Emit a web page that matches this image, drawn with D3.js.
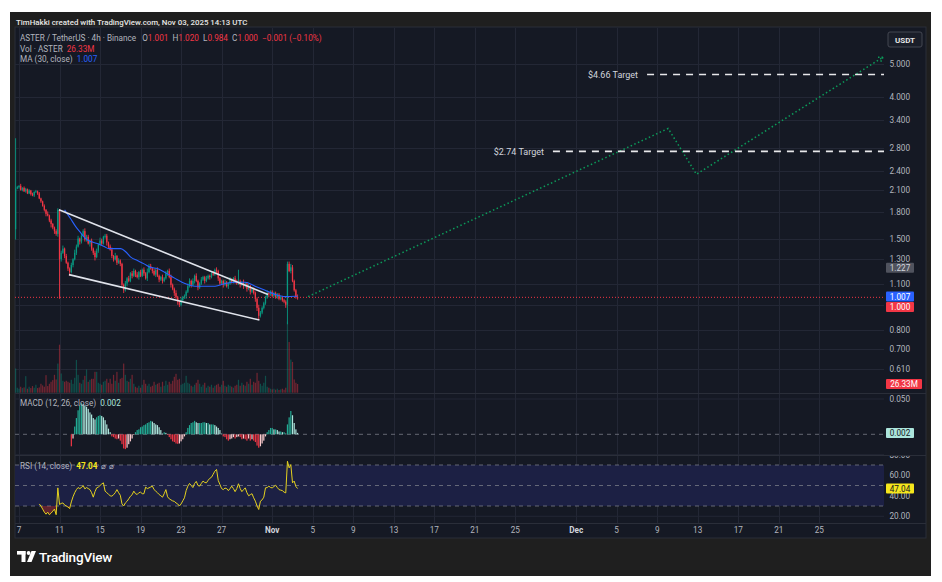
<!doctype html>
<html>
<head>
<meta charset="utf-8">
<title>ASTER / TetherUS 4h</title>
<style>
  html, body { margin: 0; padding: 0; background: #fff; }
  svg { display: block; font-family: "Roboto", "Inter", sans-serif; }
</style>
</head>
<body>
<svg id="chart" width="942" height="582"></svg>
<script src="https://cdn.jsdelivr.net/npm/d3@7/dist/d3.min.js"></script>
<script>
// ---- data (4h bars, first bar opens Oct 6 16:00 UTC) ----
const firstBar = Date.UTC(2025, 9, 6, 16);
const firstOpen = 1.60;
const closes = [
  2.12, 2.14, 2.16, 2.10, 2.13, 2.08, 2.11, 2.05, 2.09, 2.04, 2.02, 2.07,
  2.08, 2.05, 1.98, 1.94, 1.88, 1.83, 1.78, 1.76, 1.70, 1.66, 1.62, 1.58,
  1.55, 1.83, 1.30, 1.36, 1.40, 1.33, 1.27, 1.22, 1.19, 1.25, 1.30, 1.36,
  1.42, 1.50, 1.47, 1.53, 1.58, 1.49, 1.52, 1.45, 1.48, 1.40, 1.36, 1.32,
  1.38, 1.44, 1.48, 1.45, 1.52, 1.53, 1.46, 1.42, 1.39, 1.33, 1.30, 1.33,
  1.27, 1.29, 1.26, 1.09, 1.05, 1.10, 1.14, 1.12, 1.18, 1.16, 1.20, 1.17,
  1.15, 1.19, 1.16, 1.21, 1.18, 1.14, 1.19, 1.24, 1.22, 1.20, 1.17, 1.21,
  1.16, 1.13, 1.15, 1.12, 1.14, 1.18, 1.20, 1.15, 1.09, 1.06, 1.03, 1.00,
  0.97, 0.95, 0.98, 1.00, 1.01, 1.04, 1.08, 1.12, 1.09, 1.12, 1.16, 1.12,
  1.07, 1.10, 1.13, 1.15, 1.12, 1.14, 1.16, 1.15, 1.18, 1.17, 1.21, 1.20,
  1.14, 1.10, 1.12, 1.09, 1.11, 1.08, 1.10, 1.13, 1.11, 1.14, 1.12, 1.10,
  1.12, 1.09, 1.11, 1.08, 1.10, 1.06, 1.08, 1.04, 1.06, 1.03, 0.99, 0.93,
  0.88, 0.90, 0.93, 0.96, 1.00, 1.03, 1.02, 1.04, 1.01, 1.03, 1.00, 1.02,
  0.99, 1.00, 0.98, 0.97, 0.95, 1.26, 1.20, 1.23, 1.12, 1.05, 1.001, 1.000
];
// wick length above / below the body, in cents
const wickUp = [
  88, 2, 1, 3, 1, 2, 2, 1, 2, 1, 2, 1,
  2, 1, 2, 1, 1, 2, 1, 3, 1, 2, 1, 1,
  2, 2, 1, 2, 3, 1, 2, 1, 1, 2, 1, 3,
  2, 3, 1, 2, 2, 3, 2, 2, 1, 2, 1, 2,
  2, 1, 3, 2, 1, 2, 2, 1, 2, 2, 1, 3,
  1, 2, 1, 1, 1, 2, 1, 2, 1, 2, 2, 1,
  2, 1, 2, 1, 2, 1, 3, 2, 2, 1, 2, 1,
  2, 1, 1, 2, 1, 2, 1, 2, 2, 1, 1, 2,
  1, 1, 2, 1, 1, 1, 2, 2, 1, 2, 1, 2,
  1, 1, 2, 1, 1, 2, 1, 1, 1, 2, 1, 2,
  1, 1, 1, 1, 2, 1, 1, 2, 1, 1, 2, 1,
  9, 1, 1, 2, 1, 1, 2, 1, 1, 1, 1, 1,
  2, 1, 1, 1, 1, 2, 1, 1, 1, 1, 1, 1,
  1, 1, 1, 1, 1, 2, 2, 3, 2, 1, 1, 1.9
];
const wickDown = [
  11, 1, 2, 1, 2, 1, 2, 1, 1, 2, 1, 2,
  1, 2, 1, 2, 1, 2, 3, 1, 2, 4, 2, 3,
  2, 3, 31, 2, 1, 2, 1, 2, 3, 1, 2, 1,
  2, 1, 3, 2, 1, 2, 2, 1, 3, 2, 2, 3,
  1, 2, 1, 2, 1, 2, 3, 2, 1, 2, 2, 1,
  2, 1, 2, 2, 2, 1, 2, 1, 1, 2, 1, 2,
  1, 2, 1, 1, 2, 1, 2, 1, 1, 2, 1, 2,
  1, 2, 1, 2, 1, 1, 2, 1, 2, 1, 2, 1,
  2, 1.5, 1, 1, 1, 2, 1, 1, 2, 1, 2, 1,
  2, 1, 1, 1, 2, 1, 1, 2, 1, 1, 1, 2,
  2, 1, 1, 2, 1, 1, 2, 1, 1, 1, 2, 1,
  1, 2, 1, 2, 1, 2, 1, 2, 1, 1, 2, 2,
  2.5, 1, 1, 1, 1, 1, 2, 1, 1, 1, 1, 1,
  1, 1, 1, 1, 2, 12, 1, 2, 1, 1, 1, 1.6
];
// volume, millions
const volumes = [
  73, 15, 12, 18, 14, 16, 50, 12, 18, 14, 20, 15,
  24, 14, 16, 27, 22, 18, 53, 20, 27, 33, 38, 54,
  40, 88, 145, 58, 36, 33, 36, 33, 30, 39, 27, 45,
  99, 54, 30, 27, 39, 51, 70, 33, 39, 42, 42, 63,
  63, 30, 27, 24, 33, 36, 42, 30, 42, 27, 54, 36,
  63, 30, 42, 45, 88, 54, 36, 33, 42, 54, 27, 18,
  15, 21, 15, 24, 39, 27, 21, 27, 18, 21, 33, 24,
  27, 30, 18, 33, 21, 36, 24, 33, 27, 36, 48, 57,
  39, 42, 24, 27, 30, 51, 30, 27, 21, 18, 24, 30,
  39, 27, 18, 24, 30, 15, 21, 18, 24, 15, 21, 24,
  27, 18, 24, 36, 21, 18, 24, 21, 18, 15, 21, 24,
  39, 21, 30, 24, 21, 33, 27, 42, 24, 33, 30, 60,
  36, 27, 21, 30, 51, 18, 15, 12, 10, 12, 9, 12,
  8, 10, 12, 9, 15, 215, 153, 100, 93, 40, 30, 26.33
];
const _ = null;
const macdHist = [
  _, _, _, _, _, _, _, _, _, _, _, _,
  _, _, _, _, _, _, _, _, _, _, _, _,
  _, _, _, _, _, _, _, _, _, -0.017, -0.006, 0.011,
  0.023, 0.034, 0.041, 0.044, 0.043, 0.041, 0.039, 0.036, 0.031, 0.028, 0.023, 0.021,
  0.024, 0.026, 0.027, 0.026, 0.024, 0.020, 0.014, 0.008, 0.003, -0.003, -0.004, -0.006,
  -0.007, -0.006, -0.009, -0.014, -0.020, -0.021, -0.019, -0.014, -0.010, -0.006, -0.001, 0.003,
  0.006, 0.007, 0.010, 0.011, 0.013, 0.014, 0.016, 0.017, 0.019, 0.018, 0.016, 0.014,
  0.013, 0.010, 0.006, 0.001, 0.003, 0.002, -0.001, -0.004, -0.007, -0.010, -0.011, -0.013,
  -0.0135, -0.013, -0.010, -0.007, -0.003, 0.003, 0.009, 0.013, 0.016, 0.017, 0.019, 0.017,
  0.016, 0.016, 0.016, 0.017, 0.017, 0.016, 0.016, 0.014, 0.014, 0.014, 0.013, 0.011,
  0.009, 0.006, 0.001, -0.003, -0.004, -0.007, -0.009, -0.007, -0.006, -0.004, -0.006, -0.004,
  -0.003, -0.004, -0.007, -0.006, -0.007, -0.009, -0.006, -0.009, -0.007, -0.009, -0.011, -0.016,
  -0.019, -0.017, -0.013, -0.009, -0.003, 0.003, 0.006, 0.009, 0.009, 0.007, 0.007, 0.006,
  0.004, 0.004, 0.003, 0.003, 0.001, 0.014, 0.024, 0.033, 0.027, 0.016, 0.007, 0.002
];
const rsi = [
  _, _, _, _, _, _, _, _, _, _, _, _,
  _, _, 32, 30, 27, 24, 22, 24, 21.5, 23, 25, 27,
  21.5, 47.7, 31.5, 32.5, 33, 31, 30, 29, 27.5, 34, 39, 43,
  46, 48, 47, 48, 50, 46.7, 48, 47, 46, 43, 38.6, 44,
  47.7, 48.5, 50, 51.5, 52.6, 44.5, 43, 41.5, 40, 39.6, 41, 43,
  46, 43, 40.5, 32, 30, 33, 34.6, 37, 39.5, 41, 44.5, 42,
  41.2, 43, 43.5, 42, 42, 48.4, 47, 47.7, 48.5, 49.4, 46, 44.5,
  43, 41.2, 40, 38.6, 42, 46, 39, 37, 36, 35, 34.5, 33,
  32, 30, 32, 35, 38, 45, 49.4, 52, 50, 48, 52, 54,
  50, 49.4, 52, 54.3, 53, 52.6, 55, 57, 58, 61, 64, 65.7,
  55, 51, 47, 46, 47.5, 47, 45, 47, 49.4, 47, 44, 47,
  51.7, 47, 44, 46, 47.7, 43, 40, 41, 42, 38, 34.7, 30,
  26.6, 34.7, 36, 38.6, 47.7, 48, 49.4, 48, 47.7, 49, 50.3, 48,
  46, 45.5, 45, 43.5, 42.8, 73.7, 67.2, 70.4, 52.6, 54.3, 49, 47.04
];
// MA(30) read at bar indices
const maBars = [29, 32.6, 35.6, 38.6, 41.5, 44.5, 48.4, 52.4, 55.3, 58.3, 62.3, 65.2, 68.2, 72.1, 76.1, 80, 83.9, 88.2, 94.4, 100.3, 106.3, 112.2, 118.1, 124.1, 130, 135.9, 141.8, 147.8, 153.7, 159.6, 165.5, 167];
const maVals = [1.83, 1.72, 1.63, 1.56, 1.50, 1.47, 1.45, 1.42, 1.40, 1.40, 1.40, 1.37, 1.32, 1.29, 1.26, 1.23, 1.22, 1.19, 1.14, 1.10, 1.08, 1.08, 1.08, 1.10, 1.11, 1.11, 1.08, 1.05, 1.02, 1.005, 1.007, 1.007];

// falling wedge: [bar index, price]
const wedgeUpper = [[25.7, 1.83], [149.5, 1.02]];
const wedgeLower = [[31.6, 1.17], [144.4, 0.855]];
// projected path
const projDates = ['2025-11-04T13:00Z', '2025-12-10T02:00Z', '2025-12-12T21:00Z', '2025-12-31T07:00Z'];
const projPrices = [1.005, 3.21, 2.34, 5.25];
// targets
const targetLabels = ['$2.74 Target', '$4.66 Target'];
const targetPrices = [2.74, 4.66];
const targetFrom = ['2025-11-28T17:00Z', '2025-12-08T00:00Z'];

const priceTicks = [5, 4, 3.4, 2.8, 2.4, 2.1, 1.8, 1.5, 1.3, 1.1, 0.95, 0.8, 0.7, 0.61];
const dateTicks = ['2025-10-07', '2025-10-11', '2025-10-15', '2025-10-19', '2025-10-23', '2025-10-27', '2025-11-01',
  '2025-11-05', '2025-11-09', '2025-11-13', '2025-11-17', '2025-11-21', '2025-11-25', '2025-12-01',
  '2025-12-05', '2025-12-09', '2025-12-13', '2025-12-17', '2025-12-21', '2025-12-25'];
const dateLabels = ['7', '11', '15', '19', '23', '27', 'Nov', '5', '9', '13', '17', '21', '25', 'Dec', '5', '9', '13', '17', '21', '25'];
const rsiTicks = [80, 60, 40, 20];

// ---- layout ----
const UP = '#089981', DOWN = '#f23645';
const FS = 8.2;
const left = 15, right = 884, panelRight = 926;
const pane = { priceTop: 28, priceBottom: 393, macdBottom: 455, rsiBottom: 523 };
const day = 864e5;
const oct7 = Date.UTC(2025, 9, 7);
const pxDay = 10.13;

const svg = d3.select('#chart');
const x = d3.scaleUtc()
  .domain([new Date(oct7 - (19 - left) / pxDay * day), new Date(oct7 + (right - 19) / pxDay * day)])
  .range([left, right]);
const barX = i => x(new Date(firstBar + i * 4 * 3600e3));
const y = d3.scaleLog().domain([5, 0.61]).range([64.3, 368.9]);
const yVol = d3.scaleLinear().domain([0, 302]).range([392.7, 292.7]);
const yMacd = d3.scaleLinear().domain([0, 0.05]).range([434.3, 399]);
const yRsi = d3.scaleLinear().domain([30, 70]).range([506, 465]);

const bars = closes.map((c, i) => {
  const o = i === 0 ? firstOpen : closes[i - 1];
  return {
    i, o, c,
    h: Math.max(o, c) + wickUp[i] / 100,
    l: Math.min(o, c) - wickDown[i] / 100,
    v: volumes[i]
  };
});

// frame
svg.append('rect').attr('x', 10).attr('y', 12).attr('width', 921).attr('height', 564).attr('fill', '#1f1f1f');
svg.append('rect').attr('x', left).attr('y', 27).attr('width', panelRight - left).attr('height', 511)
  .attr('fill', '#151924').attr('stroke', '#2a2e39');
svg.append('text').attr('x', 16).attr('y', 24.5).attr('fill', '#e6e6e6').attr('font-size', 7.9).attr('font-weight', 500)
  .text('TimHakki created with TradingView.com, Nov 03, 2025 14:13 UTC');

const defs = svg.append('defs');
const clip = (id, y0, y1) => defs.append('clipPath').attr('id', id)
  .append('rect').attr('x', left).attr('y', y0).attr('width', right - left).attr('height', y1 - y0);
clip('cPrice', pane.priceTop, pane.priceBottom);
clip('cMacd', pane.priceBottom, pane.macdBottom);
clip('cRsi', pane.macdBottom, pane.rsiBottom);
clip('cRsiLow', yRsi(30), pane.rsiBottom);
clip('cRsiHigh', pane.macdBottom, yRsi(70));
defs.append('clipPath').attr('id', 'cAxisRsi').append('rect')
  .attr('x', right).attr('y', pane.macdBottom + 1).attr('width', 50).attr('height', pane.rsiBottom - pane.macdBottom);

// grid
const grid = svg.append('g').attr('stroke', '#232735').attr('stroke-width', 1);
dateTicks.forEach(d => {
  const gx = Math.round(x(new Date(d))) + 0.5;
  grid.append('line').attr('x1', gx).attr('x2', gx).attr('y1', pane.priceTop).attr('y2', pane.rsiBottom);
});
priceTicks.forEach(p => {
  const gy = Math.round(y(p)) + 0.5;
  grid.append('line').attr('x1', left).attr('x2', right).attr('y1', gy).attr('y2', gy);
});
[0.05].forEach(v => grid.append('line').attr('x1', left).attr('x2', right).attr('y1', yMacd(v)).attr('y2', yMacd(v)));
rsiTicks.forEach(v => grid.append('line').attr('x1', left).attr('x2', right).attr('y1', yRsi(v)).attr('y2', yRsi(v)));

// pane separators
[pane.priceBottom, pane.macdBottom, pane.rsiBottom].forEach(sy => {
  svg.append('line').attr('x1', left).attr('x2', panelRight).attr('y1', sy + 0.5).attr('y2', sy + 0.5)
    .attr('stroke', '#2a2e39');
});

// ---- price pane ----
const gp = svg.append('g').attr('clip-path', 'url(#cPrice)');
gp.append('g').selectAll('rect').data(bars).join('rect')
  .attr('x', d => barX(d.i) - 0.6).attr('width', 1.2)
  .attr('y', d => yVol(d.v)).attr('height', d => yVol(0) - yVol(d.v))
  .attr('fill', d => d.c >= d.o ? UP : DOWN).attr('opacity', 0.42);

gp.append('line').attr('x1', left).attr('x2', right)
  .attr('y1', y(closes[closes.length - 1])).attr('y2', y(closes[closes.length - 1]))
  .attr('stroke', DOWN).attr('stroke-dasharray', '1,2').attr('stroke-width', 1);

const candles = gp.append('g').selectAll('g').data(bars).join('g')
  .attr('fill', d => d.c >= d.o ? UP : DOWN).attr('stroke', d => d.c >= d.o ? UP : DOWN);
candles.append('line')
  .attr('x1', d => barX(d.i)).attr('x2', d => barX(d.i))
  .attr('y1', d => y(d.h)).attr('y2', d => y(d.l)).attr('stroke-width', 0.9);
candles.append('rect')
  .attr('x', d => barX(d.i) - 0.65).attr('width', 1.3)
  .attr('y', d => y(Math.max(d.o, d.c)))
  .attr('height', d => Math.max(1, Math.abs(y(d.o) - y(d.c))))
  .attr('stroke', 'none');

gp.append('path')
  .datum(maBars.map((b, k) => [b, maVals[k]]))
  .attr('d', d3.line().x(d => barX(d[0])).y(d => y(d[1])).curve(d3.curveMonotoneX))
  .attr('fill', 'none').attr('stroke', '#2962ff').attr('stroke-width', 1.1);

[wedgeUpper, wedgeLower].forEach(w => {
  gp.append('path').datum(w)
    .attr('d', d3.line().x(d => barX(d[0])).y(d => y(d[1])))
    .attr('stroke', '#e0e3eb').attr('stroke-width', 1.6).attr('fill', 'none');
});

const proj = projDates.map((d, k) => [x(new Date(d)), y(projPrices[k])]);
gp.append('path').datum(proj).attr('d', d3.line())
  .attr('fill', 'none').attr('stroke', '#0c9a5a').attr('stroke-width', 1.5).attr('stroke-dasharray', '1.5,2.5');
const [ax, ay] = proj[proj.length - 1];
const [bx, by] = proj[proj.length - 2];
const ang = Math.atan2(ay - by, ax - bx);
[ang + 2.6, ang - 2.6].forEach(a => {
  gp.append('line').attr('x1', ax).attr('y1', ay)
    .attr('x2', ax + 7 * Math.cos(a)).attr('y2', ay + 7 * Math.sin(a))
    .attr('stroke', '#0c9a5a').attr('stroke-width', 1.5).attr('stroke-dasharray', '1.5,2');
});

targetPrices.forEach((p, k) => {
  const tx = x(new Date(targetFrom[k]));
  gp.append('line').attr('x1', tx).attr('x2', right).attr('y1', y(p)).attr('y2', y(p))
    .attr('stroke', '#e8e8ea').attr('stroke-width', 1.6).attr('stroke-dasharray', '7,6');
  svg.append('text').attr('x', tx - 9).attr('y', y(p) + 3.2).attr('text-anchor', 'end')
    .attr('font-size', 9).attr('fill', '#d1d4dc').text(targetLabels[k]);
});

// ---- MACD pane ----
const gm = svg.append('g').attr('clip-path', 'url(#cMacd)');
gm.append('line').attr('x1', left).attr('x2', right).attr('y1', yMacd(0)).attr('y2', yMacd(0))
  .attr('stroke', '#787b86').attr('stroke-dasharray', '4,4').attr('opacity', 0.8);
const macdColor = (v, prev) => {
  if (v >= 0) return prev == null || v >= prev ? '#22ab94' : '#ace5dc';
  return prev == null || v <= prev ? '#f23645' : '#fccbcd';
};
gm.selectAll('rect.h').data(macdHist.map((v, i) => ({ v, i, prev: macdHist[i - 1] })).filter(d => d.v != null))
  .join('rect')
  .attr('x', d => barX(d.i) - 0.6).attr('width', 1.2)
  .attr('y', d => Math.min(yMacd(d.v), yMacd(0)))
  .attr('height', d => Math.abs(yMacd(d.v) - yMacd(0)))
  .attr('fill', d => macdColor(d.v, d.prev));

// ---- RSI pane ----
const gr = svg.append('g').attr('clip-path', 'url(#cRsi)');
gr.append('rect').attr('x', left).attr('width', right - left)
  .attr('y', yRsi(70)).attr('height', yRsi(30) - yRsi(70)).attr('fill', '#1c2044');
[70, 50, 30].forEach(v => {
  gr.append('line').attr('x1', left).attr('x2', right).attr('y1', yRsi(v)).attr('y2', yRsi(v))
    .attr('stroke', '#787b86').attr('stroke-dasharray', '4,4').attr('opacity', 0.8);
});
const rsiPts = rsi.map((v, i) => [i, v]).filter(d => d[1] != null);
gr.append('path').datum(rsiPts).attr('clip-path', 'url(#cRsiLow)')
  .attr('d', d3.area().x(d => barX(d[0])).y0(yRsi(30)).y1(d => yRsi(d[1])))
  .attr('fill', 'rgba(242,54,69,0.35)');
gr.append('path').datum(rsiPts).attr('clip-path', 'url(#cRsiHigh)')
  .attr('d', d3.area().x(d => barX(d[0])).y0(yRsi(70)).y1(d => yRsi(d[1])))
  .attr('fill', 'rgba(8,153,129,0.35)');
gr.append('path').datum(rsiPts)
  .attr('d', d3.line().x(d => barX(d[0])).y(d => yRsi(d[1])))
  .attr('fill', 'none').attr('stroke', '#e5d21e').attr('stroke-width', 1);

// ---- right axis ----
const boxYs = [y(1.007), 307];
const axisText = (g, yy, t) => g.append('text').attr('x', 889.5).attr('y', yy + 3)
  .attr('font-size', FS).attr('fill', '#b2b5be').text(t);
const ax1 = svg.append('g');
priceTicks.filter(p => boxYs.every(b => Math.abs(y(p) - b) > 8))
  .forEach(p => axisText(ax1, y(p), p.toFixed(3)));
axisText(ax1, yMacd(0.05), '0.050');
const axR = svg.append('g').attr('clip-path', 'url(#cAxisRsi)');
rsiTicks.forEach(v => axisText(axR, yRsi(v), v.toFixed(2)));

const box = (cy, w, fill, color, t) => {
  svg.append('rect').attr('x', 886).attr('y', cy - 5).attr('width', w).attr('height', 10)
    .attr('fill', fill).attr('rx', 1);
  svg.append('text').attr('x', 886 + w / 2).attr('y', cy + 3).attr('text-anchor', 'middle')
    .attr('font-size', FS).attr('fill', color).text(t);
};
box(y(1.227), 28, '#50535e', '#d1d4dc', '1.227');
box(y(maVals[maVals.length - 1]) + 0.3, 28, '#2962ff', '#ffffff', maVals[maVals.length - 1].toFixed(3));
box(307, 28, DOWN, '#ffffff', closes[closes.length - 1].toFixed(3));
box(yVol(volumes[volumes.length - 1]), 36, DOWN, '#ffffff', volumes[volumes.length - 1].toFixed(2) + 'M');
box(yMacd(macdHist[macdHist.length - 1]), 28, '#ace5dc', '#131722', macdHist[macdHist.length - 1].toFixed(3));
box(yRsi(rsi[rsi.length - 1]), 28, '#f5e61c', '#131722', rsi[rsi.length - 1].toFixed(2));

svg.append('rect').attr('x', 888).attr('y', 32).attr('width', 34).attr('height', 15).attr('rx', 2)
  .attr('fill', '#1a1e29').attr('stroke', '#434651');
svg.append('text').attr('x', 905).attr('y', 42.6).attr('text-anchor', 'middle')
  .attr('font-size', 8).attr('font-weight', 700).attr('fill', '#e6e6e6').text('USDT');

// ---- time axis ----
dateTicks.forEach((d, k) => {
  const bold = isNaN(+dateLabels[k]);
  svg.append('text').attr('x', x(new Date(d))).attr('y', 533).attr('text-anchor', 'middle')
    .attr('font-size', FS).attr('font-weight', bold ? 700 : 400)
    .attr('fill', bold ? '#d1d4dc' : '#b2b5be').text(dateLabels[k]);
});

// ---- legends ----
const last = bars[bars.length - 1];
const chg = last.c - last.o;
const l1 = svg.append('text').attr('x', 20).attr('y', 41.3).attr('font-size', FS).attr('fill', '#b2b5be')
  .attr('xml:space', 'preserve');
l1.append('tspan').text('ASTER / TetherUS · 4h · Binance ');
[['O', last.o], ['H', last.o + wickUp[last.i] / 100], ['L', last.c - wickDown[last.i] / 100], ['C', last.c]].forEach(([k, v]) => {
  l1.append('tspan').text('  ' + k);
  l1.append('tspan').attr('fill', DOWN).text(v.toFixed(3));
});
l1.append('tspan').attr('fill', DOWN).text('  −' + Math.abs(chg).toFixed(3) + ' (−' + Math.abs(chg / last.o * 100).toFixed(2) + '%)');

const l2 = svg.append('text').attr('x', 20).attr('y', 51.8).attr('font-size', FS).attr('fill', '#b2b5be')
  .attr('xml:space', 'preserve');
l2.append('tspan').text('Vol · ASTER ');
l2.append('tspan').attr('fill', DOWN).text(' ' + volumes[volumes.length - 1].toFixed(2) + 'M');
const l3 = svg.append('text').attr('x', 20).attr('y', 62.3).attr('font-size', FS).attr('fill', '#b2b5be')
  .attr('xml:space', 'preserve');
l3.append('tspan').text('MA (30, close) ');
l3.append('tspan').attr('fill', '#2962ff').text(' ' + maVals[maVals.length - 1].toFixed(3));

const l4 = svg.append('text').attr('x', 20).attr('y', 405.8).attr('font-size', FS).attr('fill', '#b2b5be')
  .attr('xml:space', 'preserve');
l4.append('tspan').text('MACD (12, 26, close) ');
l4.append('tspan').attr('fill', '#ace5dc').text(' ' + macdHist[macdHist.length - 1].toFixed(3));
const l5 = svg.append('text').attr('x', 20).attr('y', 468.6).attr('font-size', FS).attr('fill', '#b2b5be')
  .attr('xml:space', 'preserve');
l5.append('tspan').text('RSI (14, close) ');
l5.append('tspan').attr('fill', '#f5e61c').attr('font-weight', 700).text(' ' + rsi[rsi.length - 1].toFixed(2));
l5.append('tspan').text('  ⌀ ⌀');

// ---- footer logo ----
const logo = svg.append('g').attr('fill', '#ffffff');
logo.append('rect').attr('x', 17).attr('y', 551).attr('width', 8.5).attr('height', 3.6);
logo.append('rect').attr('x', 21.5).attr('y', 551).attr('width', 4).attr('height', 11);
logo.append('circle').attr('cx', 28.6).attr('cy', 553).attr('r', 1.9);
logo.append('path').attr('d', 'M31.5,551 L36,551 L31.5,562 L27,562 Z');
svg.append('text').attr('x', 39).attr('y', 561.5).attr('font-size', 13.5).attr('font-weight', 500)
  .attr('fill', '#ffffff').attr('letter-spacing', -0.2).text('TradingView');
</script>
</body>
</html>
